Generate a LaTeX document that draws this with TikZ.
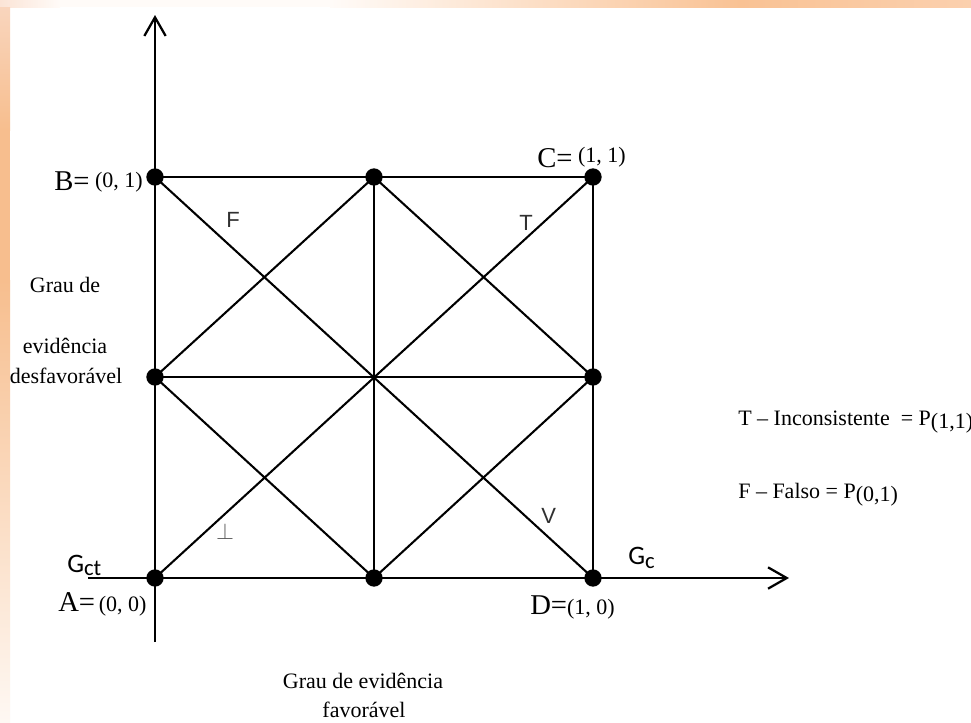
\documentclass[tikz,border=0pt]{standalone}
\usepackage{fontspec}
\setmainfont{Liberation Serif}
\newfontfamily\sansf{Liberation Sans}
\newfontfamily\calib{Carlito}
\usetikzlibrary{arrows.meta}
\definecolor{pk0}{HTML}{FBE4D6}
\definecolor{whx}{HTML}{FFFBF8}
\definecolor{or1}{HTML}{F9C294}
\definecolor{or2}{HTML}{FBD0AE}
\definecolor{lo0}{HTML}{F9D5BD}
\definecolor{lo1}{HTML}{F7BE8E}
\definecolor{lo2}{HTML}{FEF8F3}
\definecolor{labgray}{HTML}{303030}
\definecolor{perpgray}{HTML}{5A5A5A}
\newcommand\biglet{\fontsize{21.5pt}{21.5pt}\selectfont}
\begin{document}
\begin{tikzpicture}[x=0.75pt,y=-0.75pt,
  sq/.style={line width=2pt},
  diag/.style={line width=1.55pt},
  axisarrow/.style={line width=1.7pt,-{Straight Barb[length=14pt,width=16pt]}},
  dot/.style={circle,fill=black,inner sep=0pt,minimum size=13pt},
  txt/.style={inner sep=0pt,font=\fontsize{16.5pt}{18pt}\selectfont},
  glab/.style={inner sep=0pt,text=labgray,font=\sansf\fontsize{16.5pt}{17pt}\selectfont},
  gax/.style={inner sep=0pt,font=\calib\fontsize{20pt}{20pt}\selectfont}]
\useasboundingbox (0,0) rectangle (971,722);
% background
\fill[white] (0,0) rectangle (971,722);
\shade[left color=pk0,right color=whx] (0,0) rectangle (60,7);
\fill[whx] (60,0) rectangle (330,7);
\shade[left color=whx,right color=or1] (330,0) rectangle (740,7);
\shade[left color=or1,right color=or2] (740,0) rectangle (971,7);
\shade[top color=lo0,bottom color=lo1] (0,7) rectangle (10,130);
\fill[lo1] (0,130) rectangle (10,280);
\shade[top color=lo1,bottom color=lo2] (0,280) rectangle (10,722);
% points
\coordinate (A) at (155,578);
\coordinate (B) at (155,177);
\coordinate (C) at (593,177);
\coordinate (D) at (593,578);
\coordinate (Mt) at (374,177);
\coordinate (Mb) at (374,578);
\coordinate (Ml) at (155,377);
\coordinate (Mr) at (593,377);
\coordinate (ytop) at (155,15);
\coordinate (ybot) at (155,642);
\coordinate (xl) at (88,578);
\coordinate (xr) at (789,578);
% axes
\draw[axisarrow] (ybot) -- (ytop);
\draw[axisarrow] (xl) -- (xr);
% square and mid lines
\draw[sq] (A) -- (B) -- (C) -- (D) -- cycle;
\draw[sq] (Mt) -- (Mb);
\draw[sq] (Ml) -- (Mr);
% diagonals
\draw[diag] (B) -- (D);
\draw[diag] (A) -- (C);
\draw[diag] (Ml) -- (Mt) -- (Mr) -- (Mb) -- cycle;
% dots
\foreach \p in {A,B,C,D,Mt,Mb,Ml,Mr}{\node[dot] (d\p) at (\p) {};}
% corner labels
\node[txt,anchor=base east] (labB) at (143,190) {{\biglet B=} \raisebox{2.2pt}{(0, 1)}};
\node[txt,anchor=base west] (labC) at (537,167) {{\biglet C=} \raisebox{3.5pt}{(1, 1)}};
\node[txt,anchor=base west] (labA) at (58,611) {{\biglet A=}\,(0, 0)};
\node[txt,anchor=base west] (labD) at (530,614) {{\biglet D=}(1, 0)};
\node[gax,anchor=base west] (Gct) at (67,572) {G\raisebox{-2.3pt}{\fontsize{17pt}{17pt}\selectfont ct}};
\node[gax,anchor=base west] (Gc) at (628,564) {G\raisebox{-3pt}{\fontsize{17pt}{17pt}\selectfont c}};
% region labels
\node[glab,anchor=base west] (lF) at (226,227) {F};
\node[glab,anchor=base west] (lT) at (519,230) {T};
\node[glab,anchor=base west] (lV) at (541,523) {V};
\node[inner sep=0pt,text=perpgray] (lP) at (225,531) {\fontsize{17pt}{17pt}\selectfont$\perp$};
% axis texts
\node[txt,anchor=base] (y1) at (65,292) {Grau de};
\node[txt,anchor=base] (y2) at (65,353) {evidência};
\node[txt,anchor=base] (y3) at (66,383) {desfavorável};
\node[txt,anchor=base] (x1) at (363,688) {Grau de evidência};
\node[txt,anchor=base] (x2) at (364,717) {favorável};
% legend
\node[txt,anchor=base west] (leg1) at (738,425) {T -- Inconsistente \ = P\raisebox{-2.3pt}{(1,1)}};
\node[txt,anchor=base west] (leg2) at (738,498) {F -- Falso = P\raisebox{-2.3pt}{(0,1)}};
\end{tikzpicture}
\end{document}
